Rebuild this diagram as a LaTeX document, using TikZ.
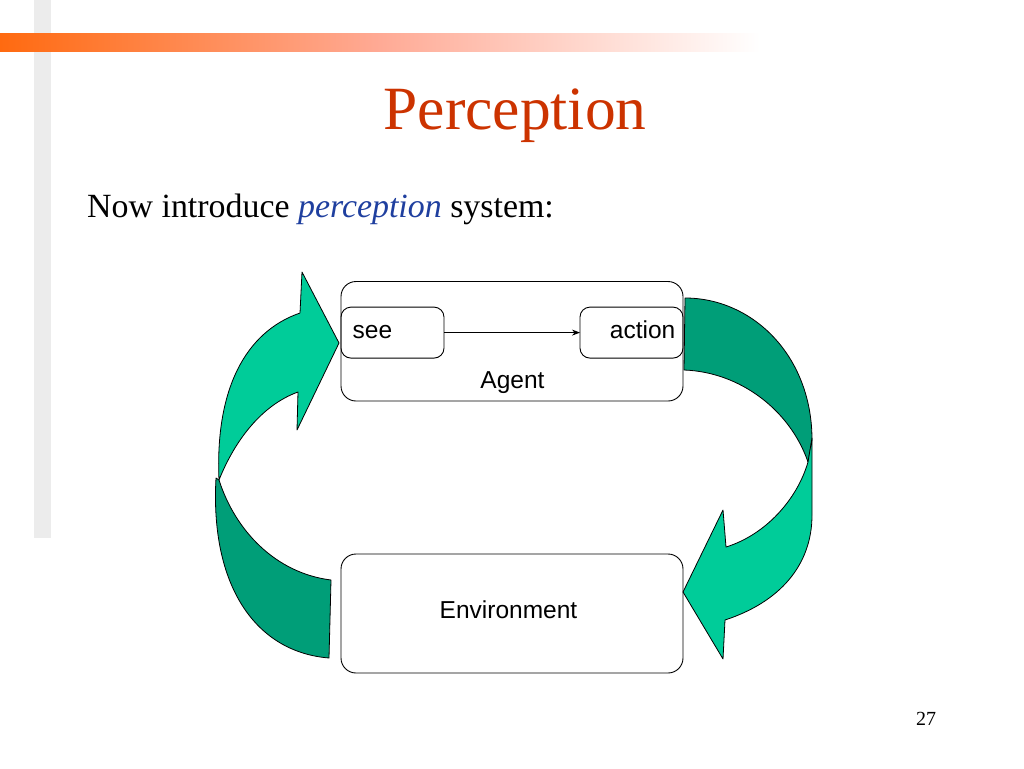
\documentclass[tikz,border=0pt]{standalone}
\usepackage{fontspec}
\setmainfont{Liberation Serif}
\newfontfamily\arialf{Liberation Sans}
\usetikzlibrary{arrows.meta}
\definecolor{titlered}{HTML}{CC3300}
\definecolor{blueit}{HTML}{1F3F9F}
\definecolor{lightg}{HTML}{00CC99}
\definecolor{darkg}{HTML}{009E78}
\definecolor{barorange}{HTML}{FF6A10}
\definecolor{barmid}{HTML}{FFAA95}
\definecolor{bargray}{HTML}{ECECEC}
\begin{document}
\begin{tikzpicture}[x=1pt,y=-1pt,
  box/.style={draw=black, line width=0.9pt, rounded corners=15pt, inner sep=0pt, outer sep=0pt},
  sbox/.style={draw=black, line width=0.9pt, rounded corners=10pt, inner sep=0pt, outer sep=0pt, minimum width=103pt, minimum height=51pt},
  lbl/.style={font=\arialf\fontsize{24.5}{29}\selectfont, inner sep=0pt},
  band/.style={draw=black, line width=0.8pt, line join=round}]
\useasboundingbox (0,0) rectangle (1024,768);
\fill[white] (0,0) rectangle (1024,768);
\fill[bargray] (34,0) rectangle (51,538);
\shade[left color=barorange, right color=white, middle color=barmid] (0,34) rectangle (760,52);

\node[font=\fontsize{61.5}{72}\selectfont, text=titlered, anchor=base, inner sep=0pt] (title) at (515,129) {Perception};
\node[font=\fontsize{33.9}{40}\selectfont, anchor=base west, inner sep=0pt] (intro) at (87,217) {Now introduce \textcolor{blueit}{\itshape perception} system:};
\node[font=\fontsize{20}{24}\selectfont, anchor=base, inner sep=0pt] (pg) at (926,725) {27};

% left curved arrow
\path[band, fill=darkg] (219,480) .. controls (235,530) and (275,573) .. (331,580) -- (329,658)
  .. controls (255,652) and (210,585) .. (216,478) -- cycle;
\path[band, fill=lightg] (219,480) .. controls (215,390) and (245,332) .. (300,313)
  -- (302,272) -- (339,343) -- (297,430) -- (298,392)
  .. controls (262,405) and (235,440) .. (219,480) -- cycle;

% right curved arrow
\path[band, fill=darkg] (685,298) -- (684,370) .. controls (740,372) and (790,410) .. (808,462)
  -- (812,440) .. controls (812,355) and (752,298) .. (685,298) -- cycle;
\path[band, fill=lightg] (812,438) -- (812,515) .. controls (812,565) and (780,602) .. (725,620)
  -- (723,659) -- (683,592) -- (723,510) -- (726,547)
  .. controls (765,535) and (797,500) .. (808,462) -- cycle;

% boxes
\node[box, minimum width=342pt, minimum height=119.5pt] (agent) at (512,341.25) {};
\node[sbox] (see) at (392.5,332.6) {};
\node[sbox] (action) at (631.5,332.6) {};
\node[box, minimum width=342pt, minimum height=119pt] (env) at (512,613.5) {};
\node[lbl, anchor=base west] (seet) at (352.5,338) {see};
\node[lbl, anchor=base east] (actiont) at (675.5,338) {action};
\node[lbl, anchor=base] (agentt) at (512.5,388.5) {Agent};
\node[lbl, anchor=base] (envt) at (508.5,618) {Environment};
\draw[-{Stealth[length=8pt,width=6pt]}, line width=0.8pt] (see.east) -- (action.west);
\end{tikzpicture}
\end{document}
